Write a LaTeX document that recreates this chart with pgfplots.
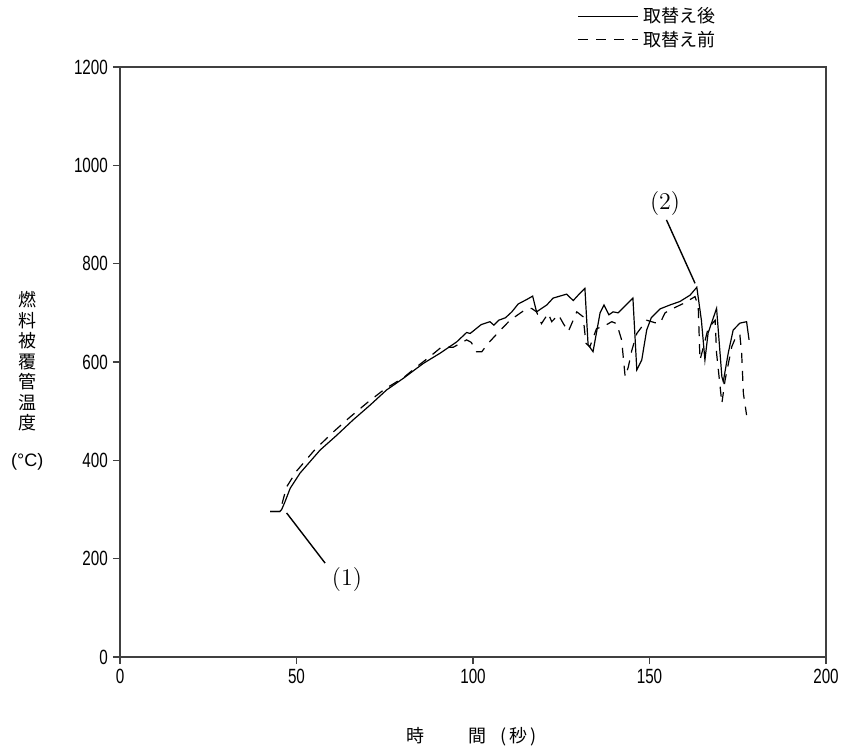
\documentclass[border=0pt]{standalone}
\usepackage{fontspec}
\usepackage{pgfplots}
\pgfplotsset{compat=1.18}
\newfontfamily\cjk{Noto Sans CJK JP}
\newfontfamily\arial{Liberation Sans}
\newfontfamily\tickfont[FakeStretch=0.74]{Liberation Sans}
\begin{document}
\begin{tikzpicture}
\begin{axis}[
  name=ax,
  scale only axis,
  width=353pt, height=295pt,
  xmin=0, xmax=200, ymin=0, ymax=1200,
  xtick={0,50,...,200}, ytick={0,200,...,1200},
  tick align=outside, major tick length=3.5pt,
  xtick pos=bottom, ytick pos=left,
  axis line style={black!75, line width=0.6pt},
  tick style={black!75, line width=0.6pt},
  /pgf/number format/assume math mode=true,
  /pgf/number format/1000 sep={},
  ticklabel style={font=\tickfont\fontsize{10.3}{12}\selectfont},
  xticklabel style={yshift=1pt},
  yticklabel style={xshift=1pt},
  clip=false,
  legend style={at={(rel axis cs:0.648,1.108)}, anchor=north west, draw=none, fill=none,
    font=\cjk\fontsize{9}{10}\selectfont, row sep=-1.5pt, inner sep=0pt},
  legend cell align=left,
  legend image code/.code={\draw[#1] (0pt,0pt) -- (30pt,0pt);},
]
\addplot[black, line width=0.6pt] coordinates {
(42.5,296)(45.3,296)(45.8,300)(46.7,315)(48.2,343)(51,374)(56.7,421)(61.4,451)(66,482)(70.8,512)(75.5,543)(80.3,567)(85.9,597)(90.7,618)(95.4,641)(98.2,660)(99.2,658)(102.3,676)(104.8,682)(105.9,675)(107.3,685)(109.2,690)(111,702)(112.8,718)(115.2,727)(116.9,734)(118,702)(120.9,716)(122.7,730)(124.6,734)(126.5,738)(128.4,725)(129.8,736)(131.7,750)(132.6,635)(134,621)(136,700)(137.1,716)(138.5,696)(139.7,702)(141.1,700)(145.3,730)(146.4,584)(147.8,604)(149.2,665)(150.5,690)(153,708)(155.8,716)(158.6,723)(161.5,736)(163.4,752)(164.7,685)(165.7,604)(166.6,659)(169,709)(170.5,570)(170.9,560)(172.3,618)(173.7,665)(175.6,679)(177.5,682)(178.2,645)
};
\addlegendentry{取替え後}
\addplot[black, line width=0.6pt, dash pattern=on 5pt off 4pt] coordinates {
(42.5,296)(45.3,296)(45.8,309)(47.2,346)(50,378)(55,420)(60,455)(65,487)(70,517)(75,545)(80.3,568)(84,590)(87.8,611)(91,630)(94.4,630)(98.2,645)(99.5,640)(101,621)(102.5,621)(104.3,638)(107,659)(110.5,685)(114.7,706)(116.6,709)(118,702)(119.4,678)(121.3,699)(122.3,682)(124.2,696)(125.6,678)(127,662)(129.4,702)(131.2,692)(132,638)(133.1,631)(135,668)(136.9,672)(139.3,682)(140.7,678)(142.1,645)(143.1,570)(144,590)(145,624)(146.4,658)(149.2,685)(151.5,680)(153,679)(154.4,700)(155.8,706)(159.6,719)(162.9,733)(163.8,713)(164.3,604)(165.3,631)(166.6,668)(168.6,685)(169,618)(170.5,516)(171.4,563)(173.3,631)(174.7,655)(175.6,655)(176.1,618)(176.6,536)(177.5,492)
};
\addlegendentry{取替え前}
% annotations
\draw[black, line width=0.7pt] (axis cs:47.2,293) -- (axis cs:58.1,191);
\node[font=\fontsize{12}{14}\selectfont] at (axis cs:64.3,157) {(1)};
\draw[black, line width=0.7pt] (axis cs:154.8,889) -- (axis cs:162.9,760);
\node[font=\fontsize{12}{14}\selectfont] at (axis cs:154.4,923) {(2)};
% y label
\node[anchor=north, align=center, font=\cjk\fontsize{9}{10.25}\selectfont, inner sep=0pt]
  at (axis cs:-26.3,744) {燃\\料\\被\\覆\\管\\温\\度\\[8pt]{\arial (°C)}};
% x label
\node[font=\cjk\fontsize{9}{10}\selectfont, inner sep=0pt] at (axis cs:99.7,-163) {時\hspace{22pt}間\hspace{7pt}(\hspace{1.5pt}秒\hspace{1.5pt})};
\end{axis}
\pgfresetboundingbox
\path[use as bounding box] ([xshift=-60pt,yshift=-46pt]ax.south west) rectangle ([xshift=9.5pt,yshift=33.5pt]ax.north east);
\end{tikzpicture}
\end{document}
